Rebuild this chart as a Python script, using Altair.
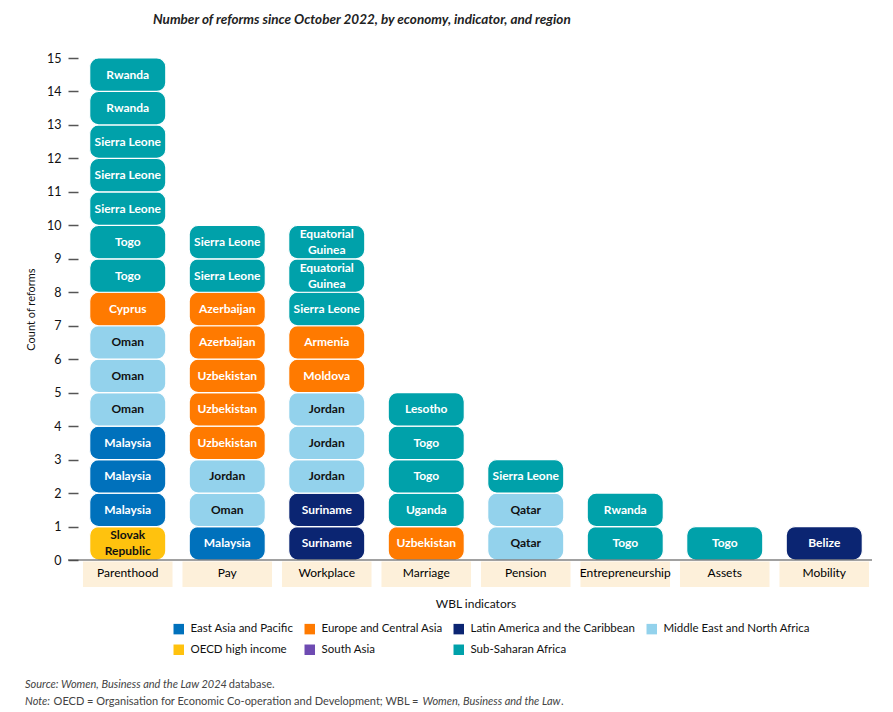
import altair as alt
import pandas as pd

F = "Lato"

indicators = ["Parenthood", "Pay", "Workplace", "Marriage", "Pension",
              "Entrepreneurship", "Assets", "Mobility"]

regions = ["East Asia and Pacific", "Europe and Central Asia",
           "Latin America and the Caribbean", "Middle East and North Africa",
           "OECD high income", "South Asia", "Sub-Saharan Africa"]
region_codes = ["EAP", "ECA", "LAC", "MENA", "OECD", "SAR", "SSA"]
region_colors = ["#0071BC", "#FF7A00", "#0B2572", "#93D2EC", "#FFC20E", "#6E4BB2", "#00A1AA"]
dark_text_regions = ["MENA", "OECD"]

# economies listed bottom to top
parenthood_econ = ["Slovak\nRepublic", "Malaysia", "Malaysia", "Malaysia", "Oman", "Oman", "Oman",
                   "Cyprus", "Togo", "Togo", "Sierra Leone", "Sierra Leone", "Sierra Leone",
                   "Rwanda", "Rwanda"]
parenthood_reg = ["OECD", "EAP", "EAP", "EAP", "MENA", "MENA", "MENA", "ECA",
                  "SSA", "SSA", "SSA", "SSA", "SSA", "SSA", "SSA"]
pay_econ = ["Malaysia", "Oman", "Jordan", "Uzbekistan", "Uzbekistan", "Uzbekistan",
            "Azerbaijan", "Azerbaijan", "Sierra Leone", "Sierra Leone"]
pay_reg = ["EAP", "MENA", "MENA", "ECA", "ECA", "ECA", "ECA", "ECA", "SSA", "SSA"]
workplace_econ = ["Suriname", "Suriname", "Jordan", "Jordan", "Jordan", "Moldova", "Armenia",
                  "Sierra Leone", "Equatorial\nGuinea", "Equatorial\nGuinea"]
workplace_reg = ["LAC", "LAC", "MENA", "MENA", "MENA", "ECA", "ECA", "SSA", "SSA", "SSA"]
marriage_econ = ["Uzbekistan", "Uganda", "Togo", "Togo", "Lesotho"]
marriage_reg = ["ECA", "SSA", "SSA", "SSA", "SSA"]
pension_econ = ["Qatar", "Qatar", "Sierra Leone"]
pension_reg = ["MENA", "MENA", "SSA"]
entrepreneurship_econ = ["Togo", "Rwanda"]
entrepreneurship_reg = ["SSA", "SSA"]
assets_econ = ["Togo"]
assets_reg = ["SSA"]
mobility_econ = ["Belize"]
mobility_reg = ["LAC"]

econ_lists = [parenthood_econ, pay_econ, workplace_econ, marriage_econ, pension_econ,
              entrepreneurship_econ, assets_econ, mobility_econ]
reg_lists = [parenthood_reg, pay_reg, workplace_reg, marriage_reg, pension_reg,
             entrepreneurship_reg, assets_reg, mobility_reg]

code_to_name = dict(zip(region_codes, regions))
rows = []
for ind, econs, regs in zip(indicators, econ_lists, reg_lists):
    for i, (e, r) in enumerate(zip(econs, regs)):
        rows.append({
            "indicator": ind, "economy": e, "region": code_to_name[r],
            "lo": i, "hi": i + 1, "mid": i + 0.5,
            "dark": 1 if r in dark_text_regions else 0,
            "nl": e.count("\n") + 1,
        })
df = pd.DataFrame(rows)
cats = pd.DataFrame({"indicator": indicators})
one = pd.DataFrame({"k": [0]})

W, H = 796, 502

xscale = alt.Scale(domain=indicators, paddingInner=0.1, paddingOuter=0.05)
yscale = alt.Scale(domain=[0, 15], nice=False)
yaxis = alt.Axis(title="Count of reforms", values=list(range(16)), domain=False,
                 grid=False, tickSize=10, tickColor="#555555", tickWidth=1.5,
                 labelPadding=7, labelFont=F, labelFontSize=12.5, labelColor="#111111",
                 titleFont=F, titleFontSize=11, titleFontWeight="normal",
                 titleColor="#111111", titlePadding=10)

base = alt.Chart(df)

boxes = base.mark_bar(cornerRadius=9, stroke="white", strokeWidth=1.2,
                      width=alt.RelativeBandSize(0.85)).encode(
    x=alt.X("indicator:N", scale=xscale, axis=None),
    y=alt.Y("lo:Q", scale=yscale, axis=yaxis),
    y2="hi:Q",
    color=alt.Color("region:N", scale=alt.Scale(domain=regions, range=region_colors),
                    legend=alt.Legend(title=None, orient="none", direction="horizontal",
                                      legendX=95, legendY=565,
                                      columns=4, symbolType="square", symbolSize=110,
                                      symbolStrokeWidth=0, labelFont=F, labelFontSize=11.5,
                                      labelColor="#111111", columnPadding=10, labelLimit=300,
                                      rowPadding=8, labelOffset=6, padding=0)),
)

def label_layer(n, dy):
    return base.mark_text(font=F, fontSize=12, fontWeight="bold", lineBreak="\n",
                          lineHeight=16, baseline="middle", dy=dy).encode(
        x=alt.X("indicator:N", scale=xscale, axis=None),
        y=alt.Y("mid:Q", scale=yscale, axis=yaxis),
        text="economy:N",
        fill=alt.condition("datum.dark == 1", alt.value("#111111"), alt.value("#FFFFFF")),
    ).transform_filter(f"datum.nl == {n}")

labels1 = label_layer(1, 0)
labels2 = label_layer(2, -8)

baseline = alt.Chart(one).mark_rule(color="#444444", strokeWidth=1.2).encode(
    x=alt.value(-10), x2=alt.value(W - 2), y=alt.value(H))

cat_boxes = alt.Chart(cats).mark_bar(color="#FDF0DA", width=alt.RelativeBandSize(1.0)).encode(
    x=alt.X("indicator:N", scale=xscale, axis=None),
    y=alt.value(H + 1.5), y2=alt.value(H + 27))

cat_text = alt.Chart(cats).mark_text(font=F, fontSize=12, fontWeight="normal",
                                     color="#000000", baseline="middle").encode(
    x=alt.X("indicator:N", scale=xscale, axis=None),
    y=alt.value(H + 13), text="indicator:N")

# approximate glyph advance widths (per 1000 em) for placing mixed-style text runs
_w = {" ": 193, ",": 230, ".": 230, ":": 230, ";": 230, "=": 580, "-": 330}
_w.update({c: 580 for c in "0123456789"})
_w.update(dict(zip("abcdefghijklmnopqrstuvwxyz",
                   [500, 560, 460, 560, 520, 320, 500, 560, 240, 240, 500, 240, 840,
                    560, 560, 560, 560, 360, 420, 350, 560, 500, 770, 490, 500, 450])))
_w.update(dict(zip("ABCDEFGHIJKLMNOPQRSTUVWXYZ",
                   [680, 620, 660, 730, 560, 520, 720, 740, 280, 380, 640, 490, 880,
                    750, 780, 590, 780, 620, 520, 560, 720, 680, 1000, 660, 620, 600])))
_factor = {"italic": 0.965, "normal": 1.02}

def tw(s, size, style):
    return sum(_w.get(c, 520) for c in s) * size / 1000.0 * _factor[style]

def txt(s, x, y, size=12, style="normal", weight="normal", color="#111111"):
    return alt.Chart(one).mark_text(text=s, font=F, fontSize=size, fontStyle=style,
                                    fontWeight=weight, color=color, align="left",
                                    baseline="middle").encode(
        x=alt.value(x), y=alt.value(y))

def runs(parts, x0, y, size=11, color="#444444"):
    out = []
    x = x0
    for s, st, gap in parts:
        x += gap
        out.append(txt(s, x, y, size=size, style=st, color=color))
        x += tw(s, size, st)
    return out

xtitle = alt.Chart(one).mark_text(text="WBL indicators", font=F, fontSize=12,
                                  color="#111111", baseline="middle").encode(
    x=alt.value(398), y=alt.value(546))

subtitle = txt("Number of reforms since October 2022, by economy, indicator, and region",
               75, -38, size=13.5, style="italic", weight="bold", color="#222222")

src = runs([("Source: Women, Business and the Law 2024", "italic", 0),
            ("database.", "normal", 2.5)], -53, 627)
note = runs([("Note:", "italic", 0),
             ("OECD = Organisation for Economic Co-operation and Development; WBL =", "normal", 3),
             ("Women, Business and the Law", "italic", 6.5), (".", "normal", 0)], -53, 644)

chart = alt.layer(
    cat_boxes, boxes, labels1, labels2, baseline, cat_text, xtitle, subtitle, *src, *note
).properties(
    width=W, height=H,
    autosize=alt.AutoSizeParams(type="none"),
    padding={"left": 70, "top": 50, "right": 3, "bottom": 150},
).configure_view(stroke=None)

chart.save("out.html", embed_options={"renderer": "svg", "actions": False})
